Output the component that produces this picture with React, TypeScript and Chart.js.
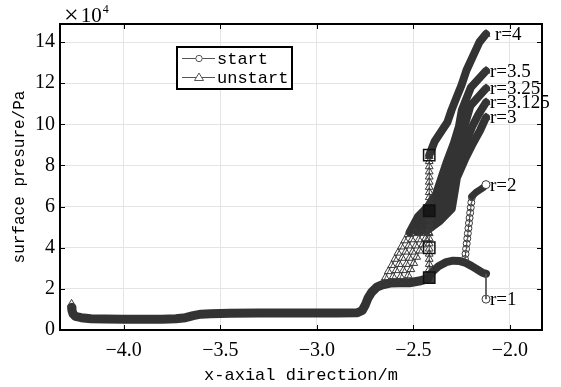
import { useEffect, useRef } from 'react';
import { Chart, registerables } from 'chart.js';

Chart.register(...registerables);

type P = [number, number];

const X_TICKS = [-4.0, -3.5, -3.0, -2.5, -2.0];
const Y_TICKS = [0, 2, 4, 6, 8, 10, 12, 14];
const X_MIN = -4.33;
const X_MAX = -1.834;
const Y_MIN = 0;
const Y_MAX = 14.88;

const X_TITLE = 'x-axial direction/m';
const Y_TITLE = 'surface presure/Pa';
const MULT_SIGN = '×';
const MULT_BASE = '10';
const MULT_EXP = '4';
const LEGEND_LABELS = ['start', 'unstart'];

// common baseline (start and unstart overlap here)
const BASELINE: P[] = [
  [-4.27, 1.1], [-4.268, 0.95], [-4.262, 0.78], [-4.25, 0.66], [-4.22, 0.6], [-4.17, 0.55],
  [-4.1, 0.53], [-4.0, 0.52], [-3.9, 0.52], [-3.8, 0.52], [-3.73, 0.55], [-3.68, 0.6],
  [-3.64, 0.7], [-3.6, 0.77], [-3.55, 0.79], [-3.45, 0.81], [-3.3, 0.83], [-3.1, 0.83],
  [-2.9, 0.83], [-2.79, 0.84], [-2.765, 0.95], [-2.75, 1.2], [-2.735, 1.55], [-2.715, 1.85],
  [-2.69, 2.08], [-2.66, 2.2], [-2.62, 2.28], [-2.57, 2.3], [-2.52, 2.3], [-2.47, 2.38], [-2.425, 2.5],
];
const UNSTART_FIRST: P[] = [[-4.27, 1.27]];

// start, r=1
const R1_BAND: P[] = [
  [-2.425, 2.5], [-2.4, 2.85], [-2.37, 3.1], [-2.33, 3.3], [-2.295, 3.37], [-2.26, 3.35],
  [-2.233, 3.28], [-2.2, 3.12], [-2.17, 2.95], [-2.145, 2.8], [-2.124, 2.73],
];
const R1_DROP: P[] = [[-2.124, 2.73], [-2.124, 1.5]];

// start, r=2
const R2_COLUMN: P[] = [
  [-2.233, 3.45], [-2.23, 3.7], [-2.227, 3.95], [-2.224, 4.2], [-2.221, 4.45], [-2.218, 4.7],
  [-2.215, 4.95], [-2.212, 5.2], [-2.209, 5.45], [-2.206, 5.7], [-2.203, 5.95], [-2.2, 6.2], [-2.197, 6.45],
];
const R2_BAND: P[] = [[-2.197, 6.5], [-2.175, 6.7], [-2.15, 6.85], [-2.135, 6.95]];
const R2_END: P[] = [[-2.124, 7.07]];
const R1_END: P[] = [[-2.124, 1.5]];

// unstart, r=4
const R4_COLUMN: P[] = [
  [-2.418, 2.7], [-2.418, 2.95], [-2.418, 3.2], [-2.418, 3.45], [-2.418, 3.7], [-2.418, 3.95],
  [-2.418, 4.2], [-2.418, 4.45], [-2.418, 4.7], [-2.418, 4.95], [-2.418, 5.2], [-2.418, 5.45],
  [-2.418, 5.7], [-2.418, 5.95], [-2.418, 6.2], [-2.418, 6.45], [-2.418, 6.7], [-2.418, 6.95],
  [-2.418, 7.2], [-2.418, 7.45], [-2.418, 7.7], [-2.418, 7.95], [-2.418, 8.2], [-2.418, 8.45],
];
const R4_BAND: P[] = [
  [-2.418, 8.5], [-2.39, 9.17], [-2.355, 9.66], [-2.324, 10.1], [-2.303, 10.68], [-2.277, 11.3],
  [-2.251, 11.9], [-2.225, 12.63], [-2.189, 13.37], [-2.158, 14.0], [-2.124, 14.39],
];

// unstart, r=3.5 / 3.25 / 3.125 / 3
const R35_FAN: P[] = [
  [-2.66, 2.25], [-2.645, 2.55], [-2.63, 2.85], [-2.612, 3.15], [-2.596, 3.45], [-2.58, 3.75],
  [-2.562, 4.05], [-2.545, 4.35], [-2.528, 4.65],
];
const R35_BAND: P[] = [
  [-2.52, 4.75], [-2.477, 5.5], [-2.425, 6.0], [-2.383, 6.6], [-2.358, 7.3], [-2.326, 8.2],
  [-2.29, 9.1], [-2.264, 9.9], [-2.249, 10.7], [-2.202, 11.8], [-2.124, 12.6],
];
const R325_FAN: P[] = [
  [-2.62, 2.3], [-2.605, 2.6], [-2.59, 2.9], [-2.574, 3.2], [-2.558, 3.5], [-2.54, 3.8],
  [-2.524, 4.1], [-2.508, 4.4], [-2.49, 4.7],
];
const R325_BAND: P[] = [
  [-2.487, 4.8], [-2.44, 5.4], [-2.383, 5.9], [-2.347, 6.6], [-2.326, 7.3], [-2.295, 8.2],
  [-2.259, 9.1], [-2.233, 10.0], [-2.205, 10.9], [-2.124, 11.75],
];
const R3125_FAN: P[] = [
  [-2.58, 2.3], [-2.566, 2.6], [-2.552, 2.9], [-2.536, 3.2], [-2.52, 3.5], [-2.504, 3.8],
  [-2.488, 4.1], [-2.472, 4.4], [-2.456, 4.7],
];
const R3125_BAND: P[] = [
  [-2.461, 4.8], [-2.399, 5.35], [-2.342, 5.9], [-2.316, 6.7], [-2.301, 7.35], [-2.264, 8.25],
  [-2.228, 9.1], [-2.195, 9.9], [-2.162, 10.5], [-2.124, 11.07],
];
const R3_FAN: P[] = [
  [-2.54, 2.35], [-2.527, 2.65], [-2.513, 2.95], [-2.498, 3.25], [-2.483, 3.55], [-2.468, 3.85],
  [-2.452, 4.15], [-2.437, 4.45], [-2.422, 4.75],
];
const R3_BAND: P[] = [
  [-2.435, 4.8], [-2.363, 5.3], [-2.301, 5.9], [-2.285, 6.8], [-2.275, 7.4], [-2.233, 8.3],
  [-2.192, 9.07], [-2.155, 9.7], [-2.124, 10.34],
];
const UNSTART_ENDS: P[] = [[-2.124, 14.39], [-2.124, 12.6], [-2.124, 11.75], [-2.124, 11.07], [-2.124, 10.34]];

// boxed marks at x = -2.418
const BOXES: P[] = [[-2.418, 8.5], [-2.418, 5.8], [-2.418, 4.0], [-2.418, 2.55]];
const BOX_FILLS = ['rgba(0,0,0,0)', 'rgba(20,20,20,0.9)', 'rgba(0,0,0,0)', 'rgba(40,40,40,0.9)'];

// curve labels: text and anchor (end point of each curve)
const CURVE_LABELS = ['r=4', 'r=3.5', 'r=3.25', 'r=3.125', 'r=3', 'r=2', 'r=1'];
const CURVE_LABEL_ANCHORS: P[] = [
  [-2.124, 14.39], [-2.124, 12.6], [-2.124, 11.75], [-2.124, 11.07], [-2.124, 10.34], [-2.124, 7.07], [-2.124, 1.5],
];

const DARK = '#333333';
const SERIF = '"Liberation Serif", "DejaVu Serif", serif';
const MONO = '"Liberation Mono", "DejaVu Sans Mono", monospace';

const toXY = (pts: P[]) => pts.map(([x, y]) => ({ x, y }));

const band = (pts: P[], width = 8) => ({
  data: toXY(pts),
  showLine: true,
  borderColor: DARK,
  borderWidth: width,
  borderCapStyle: 'round' as const,
  borderJoinStyle: 'round' as const,
  pointRadius: 0,
  order: 3,
});

const markers = (pts: P[], style: string, radius: number, line = true) => ({
  data: toXY(pts),
  showLine: line,
  borderColor: '#3a3a3a',
  borderWidth: 1,
  pointStyle: style,
  pointRadius: radius,
  pointBorderColor: '#3a3a3a',
  pointBackgroundColor: 'rgba(255,255,255,0)',
  pointBorderWidth: 1,
  order: 2,
});

const overlay = {
  id: 'overlay',
  afterDraw(chart: any) {
    const { ctx, chartArea: a, scales } = chart;
    const xs = scales.x;
    const ys = scales.y;
    ctx.save();
    // inward tick marks
    ctx.strokeStyle = '#000';
    ctx.lineWidth = 1;
    ctx.beginPath();
    X_TICKS.forEach((v) => {
      const px = Math.round(xs.getPixelForValue(v)) + 0.5;
      ctx.moveTo(px, a.bottom); ctx.lineTo(px, a.bottom - 5);
      ctx.moveTo(px, a.top); ctx.lineTo(px, a.top + 5);
    });
    Y_TICKS.forEach((v) => {
      const py = Math.round(ys.getPixelForValue(v)) + 0.5;
      ctx.moveTo(a.left, py); ctx.lineTo(a.left + 5, py);
      ctx.moveTo(a.right, py); ctx.lineTo(a.right - 5, py);
    });
    ctx.stroke();
    // frame
    ctx.lineWidth = 2;
    ctx.strokeRect(a.left, a.top, a.right - a.left, a.bottom - a.top);

    // multiplier
    ctx.fillStyle = '#000';
    ctx.textBaseline = 'alphabetic';
    ctx.textAlign = 'left';
    ctx.font = `26px ${SERIF}`;
    ctx.fillText(MULT_SIGN, a.left + 4, a.top - 1);
    const ws = ctx.measureText(MULT_SIGN).width;
    ctx.font = `21px ${SERIF}`;
    ctx.fillText(MULT_BASE, a.left + 6 + ws, a.top - 2);
    const wb = ctx.measureText(MULT_BASE).width;
    ctx.font = `12px ${SERIF}`;
    ctx.fillText(MULT_EXP, a.left + 7 + ws + wb, a.top - 11);

    // legend
    const lx = 177, ly = 47, lw = 115, lh = 42;
    ctx.fillStyle = '#fff';
    ctx.fillRect(lx, ly, lw, lh);
    ctx.lineWidth = 2;
    ctx.strokeStyle = '#000';
    ctx.strokeRect(lx, ly, lw, lh);
    const rows = [ly + 11, ly + 30];
    ctx.strokeStyle = '#555';
    ctx.lineWidth = 1;
    rows.forEach((ry, i) => {
      ctx.beginPath();
      ctx.moveTo(lx + 5, ry + 0.5); ctx.lineTo(lx + 38, ry + 0.5);
      ctx.stroke();
      ctx.fillStyle = '#fff';
      ctx.beginPath();
      if (i === 0) {
        ctx.arc(lx + 22, ry + 0.5, 3.2, 0, Math.PI * 2);
      } else {
        ctx.moveTo(lx + 22, ry - 4);
        ctx.lineTo(lx + 26.5, ry + 3.5);
        ctx.lineTo(lx + 17.5, ry + 3.5);
        ctx.closePath();
      }
      ctx.fill();
      ctx.stroke();
    });
    ctx.fillStyle = '#000';
    ctx.font = `17px ${MONO}`;
    ctx.textBaseline = 'middle';
    rows.forEach((ry, i) => ctx.fillText(LEGEND_LABELS[i], lx + 40, ry + 1));

    // curve labels
    ctx.font = `19px ${SERIF}`;
    CURVE_LABELS.forEach((t, i) => {
      const [vx, vy] = CURVE_LABEL_ANCHORS[i];
      const px = xs.getPixelForValue(vx) + (i === 0 ? 9 : 4);
      const py = ys.getPixelForValue(vy) + 1;
      ctx.fillText(t, px, py);
    });
    ctx.restore();
  },
};

export default function App() {
  const ref = useRef<HTMLCanvasElement | null>(null);

  useEffect(() => {
    document.body.style.margin = '0';
    const canvas = ref.current;
    if (!canvas) return;

    const datasets: any[] = [
      band(BASELINE, 9),
      band(R1_BAND, 8),
      { ...markers(R1_DROP, 'circle', 0), borderColor: '#555' },
      markers(R2_COLUMN, 'circle', 3.5),
      band(R2_BAND, 7),
      { ...markers(R2_END, 'circle', 4, false), pointBackgroundColor: '#fff' },
      { ...markers(R1_END, 'circle', 4, false), pointBackgroundColor: '#fff' },
      markers(UNSTART_FIRST, 'triangle', 4.5, false),
      markers(R4_COLUMN, 'triangle', 4.5),
      band(R4_BAND, 8),
      markers(R35_FAN, 'triangle', 4.5),
      band(R35_BAND, 8),
      markers(R325_FAN, 'triangle', 4.5),
      band(R325_BAND, 8),
      markers(R3125_FAN, 'triangle', 4.5),
      band(R3125_BAND, 8),
      markers(R3_FAN, 'triangle', 4.5),
      band(R3_BAND, 8),
      markers(UNSTART_ENDS, 'triangle', 4.5, false),
      {
        data: toXY(BOXES),
        showLine: false,
        pointStyle: 'rect',
        pointRadius: 8,
        pointBorderColor: '#111',
        pointBorderWidth: 1.5,
        pointBackgroundColor: BOX_FILLS,
        order: 0,
      },
    ];

    const chart = new Chart(canvas, {
      type: 'scatter',
      data: { datasets },
      options: {
        animation: false,
        responsive: true,
        maintainAspectRatio: false,
        layout: { padding: { left: 0, top: 24, right: 19, bottom: 0 } },
        plugins: { legend: { display: false }, tooltip: { enabled: false } },
        scales: {
          x: {
            type: 'linear',
            min: X_MIN,
            max: X_MAX,
            afterBuildTicks: (s: any) => { s.ticks = X_TICKS.map((v) => ({ value: v })); },
            afterFit: (s: any) => { s.height = 57; },
            grid: { color: '#e4e4e4', drawTicks: false, lineWidth: 1 },
            border: { display: true, color: '#000', width: 2 },
            ticks: {
              padding: 9,
              color: '#000',
              font: { family: SERIF, size: 20 },
              callback: (v: any) => (Number(v) < 0 ? '−' : '') + Math.abs(Number(v)).toFixed(1),
            },
            title: {
              display: true,
              text: X_TITLE,
              color: '#000',
              font: { family: MONO, size: 17 },
              padding: { top: 1, bottom: 1 },
            },
          },
          y: {
            type: 'linear',
            min: Y_MIN,
            max: Y_MAX,
            afterBuildTicks: (s: any) => { s.ticks = Y_TICKS.map((v) => ({ value: v })); },
            afterFit: (s: any) => { s.width = 60; },
            grid: { color: '#e4e4e4', drawTicks: false, lineWidth: 1 },
            border: { display: true, color: '#000', width: 2 },
            ticks: {
              padding: 5,
              color: '#000',
              font: { family: SERIF, size: 20 },
              callback: (v: any) => String(v),
            },
            title: {
              display: true,
              text: Y_TITLE,
              color: '#000',
              font: { family: MONO, size: 16 },
              padding: { top: 10, bottom: 1 },
            },
          },
        },
      },
      plugins: [overlay],
    });
    return () => chart.destroy();
  }, []);

  return (
    <div style={{ width: 561, height: 387, position: 'relative' }}>
      <canvas ref={ref} />
    </div>
  );
}
